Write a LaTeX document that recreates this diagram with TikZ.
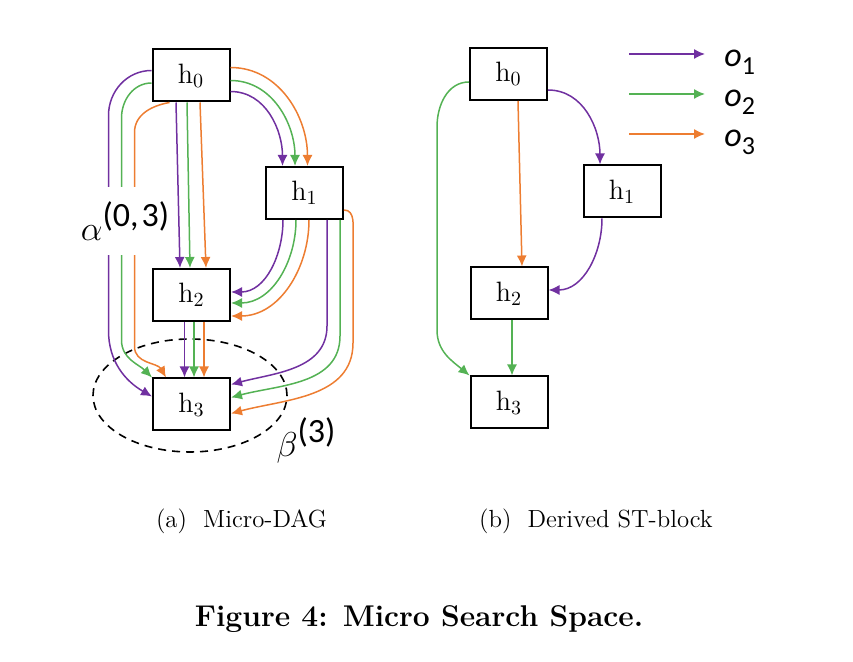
\documentclass[tikz,border=0pt]{standalone}
\usepackage{fontspec}
\setsansfont{Carlito}
\usepackage{tikz}
\usetikzlibrary{arrows.meta,calc,positioning}

\definecolor{opPurple}{RGB}{112,48,160}
\definecolor{opGreen}{RGB}{84,178,84}
\definecolor{opOrange}{RGB}{237,125,49}

\begin{document}
\begin{tikzpicture}[x=0.5pt,y=0.5pt,
        cell/.style={rectangle, draw, line width=1pt, minimum width=38.5pt, minimum height=26pt, inner sep=0pt, font=\fontsize{14}{16}\selectfont},
        op/.style={line width=0.75pt, -{Latex[length=5.5pt,width=5pt]}},
        opa/.style={op, draw=opPurple},
        opb/.style={op, draw=opGreen},
        opc/.style={op, draw=opOrange},
        oplabel/.style={anchor=base west, inner sep=0pt},
        subcap/.style={font=\fontsize{12.4}{14}\selectfont}
    ]
        \useasboundingbox (0,0) rectangle (853,-662);

        % (a) Micro-DAG
        \node[cell] (a0) at (191,-75.5) {$\mathrm{h}_0$};
        \node[cell] (a1) at (304.5,-193) {$\mathrm{h}_1$};
        \node[cell] (a2) at (191.5,-295) {$\mathrm{h}_2$};
        \node[cell] (a3) at (191.5,-404.5) {$\mathrm{h}_3$};

        \draw[line width=0.8pt, dash pattern=on 4pt off 3pt] ($(a3)+(-1.5,9)$) ellipse [x radius=97, y radius=56.5];

        \draw[opa] ($(a0.east)+(0,-16)$) to[out=0,in=90] ($(a1.north)+(-22,0)$);
        \draw[opb] ($(a0.east)+(0,-5)$) to[out=0,in=90] ($(a1.north)+(-9.5,0)$);
        \draw[opc] ($(a0.east)+(0,8)$) to[out=0,in=90] ($(a1.north)+(3,0)$);

        \draw[opa] ($(a0.south)+(-15,0)$) -- ($(a2.north)+(-11.5,0)$);
        \draw[opb] ($(a0.south)+(-4,0)$) -- ($(a2.north)+(-1.5,0)$);
        \draw[opc] ($(a0.south)+(9,0)$) -- ($(a2.north)+(14.5,0)$);

        \draw[opa] ($(a0.west)+(0,5)$) to[out=180,in=90] ++(-43,-45) -- ++(0,-215) to[out=-90,in=150] ($(a3.west)+(0,8)$);
        \draw[opb] ($(a0.west)+(0,-7.5)$) to[out=180,in=90] ++(-30,-35) -- ++(0,-222) to[out=-90,in=135] (a3.north west);
        \draw[opc] ($(a0.south west)+(18,0)$) to[out=190,in=90] ++(-35,-30) -- ++(0,-214) to[out=-90,in=120] ($(a3.north west)+(14,0)$);

        \draw[opa] ($(a1.south)+(-21.5,0)$) to[out=-90,in=0] ($(a2.east)+(0,3)$);
        \draw[opb] ($(a1.south)+(-8.5,0)$) to[out=-90,in=0] ($(a2.east)+(0,-8)$);
        \draw[opc] ($(a1.south)+(4.5,0)$) to[out=-90,in=0] ($(a2.east)+(0,-21)$);

        \draw[opa] ($(a1.south)+(22.5,0)$) -- ++(0,-106) to[out=-90,in=15] ($(a3.east)+(0,20)$);
        \draw[opb] ($(a1.south)+(35.5,0)$) -- ++(0,-116) to[out=-90,in=15] ($(a3.east)+(0,7)$);
        \draw[opc] ($(a1.east)+(0,-17)$) to[out=0,in=90] ++(9,-28) -- ++(0,-105) to[out=-90,in=15] ($(a3.east)+(0,-9)$);

        \draw[opa] ($(a2.south)+(-7,0)$) -- ($(a3.north)+(-7,0)$);
        \draw[opb] ($(a2.south)+(2.5,0)$) -- ($(a3.north)+(2.5,0)$);
        \draw[opc] ($(a2.south)+(12.5,0)$) -- ($(a3.north)+(12.5,0)$);

        \node[fill=white, inner sep=1pt, minimum height=34pt] (alpha) at (125,-221)
            {{\fontsize{18}{20}\selectfont$\alpha$}\raisebox{7pt}{\fontsize{17}{18}\selectfont\sffamily(0,\kern1.5pt3)}};
        \node (beta) at (306,-440)
            {{\fontsize{18}{20}\selectfont$\beta$}\raisebox{7pt}{\fontsize{17}{18}\selectfont\sffamily(3)}};

        % (b) Derived ST-block
        \node[cell] (b0) at (508.5,-74) {$\mathrm{h}_0$};
        \node[cell] (b1) at (622,-191.5) {$\mathrm{h}_1$};
        \node[cell] (b2) at (509,-293.5) {$\mathrm{h}_2$};
        \node[cell] (b3) at (509,-402.5) {$\mathrm{h}_3$};

        \draw[opb] ($(b0.west)+(0,-8)$) to[out=180,in=90] ++(-32,-45) -- ++(0,-203) to[out=-90,in=140] (b3.north west);
        \draw[opc] ($(b0.south)+(9.5,0)$) -- ($(b2.north)+(13,0)$);
        \draw[opa] ($(b0.east)+(0,-16)$) to[out=0,in=90] ($(b1.north)+(-22,0)$);
        \draw[opa] ($(b1.south)+(-20,0)$) to[out=-90,in=0] ($(b2.east)+(0,3.5)$);
        \draw[opb] ($(b2.south)+(3,0)$) -- ($(b3.north)+(3,0)$);

        % legend
        \coordinate (k1s) at (629,-54);  \coordinate (k1e) at (705,-54);
        \coordinate (k2s) at (629,-94);  \coordinate (k2e) at (705,-94);
        \coordinate (k3s) at (629,-134); \coordinate (k3e) at (705,-134);
        \node[oplabel] (o1) at (724,-67)  {{\fontsize{17}{18}\selectfont\sffamily\itshape o}\raisebox{-4pt}{\fontsize{13}{14}\selectfont\sffamily 1}};
        \node[oplabel] (o2) at (724,-107) {{\fontsize{17}{18}\selectfont\sffamily\itshape o}\raisebox{-4pt}{\fontsize{13}{14}\selectfont\sffamily 2}};
        \node[oplabel] (o3) at (724,-147) {{\fontsize{17}{18}\selectfont\sffamily\itshape o}\raisebox{-4pt}{\fontsize{13}{14}\selectfont\sffamily 3}};
        \draw[opa] (k1s) -- (k1e);
        \draw[opb] (k2s) -- (k2e);
        \draw[opc] (k3s) -- (k3e);

        % captions
        \node[subcap] (capa) at (241.5,-521) {(a)\hspace{8pt}Micro-DAG};
        \node[subcap] (capb) at (596,-521) {(b)\hspace{8pt}Derived ST-block};
        \node[font=\bfseries\fontsize{15}{17}\selectfont] (fig) at (419,-619) {Figure 4: Micro Search Space.};
    \end{tikzpicture}
\end{document}
